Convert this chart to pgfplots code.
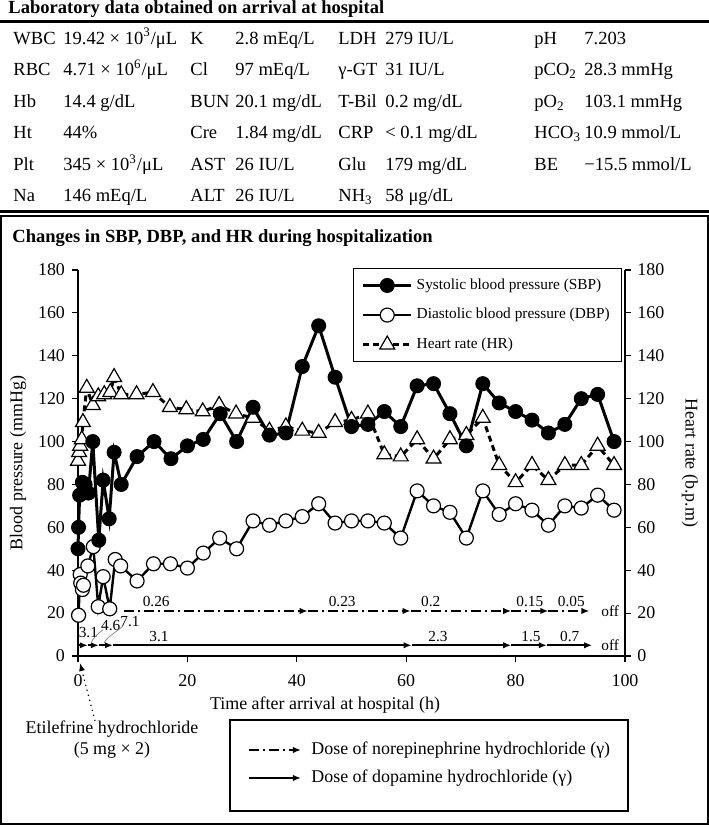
\documentclass[border=0pt]{standalone}
\usepackage{fontspec}
\setmainfont{Liberation Serif}
\usepackage{pgfplots}
\pgfplotsset{compat=1.18}
\usetikzlibrary{arrows.meta}
\begin{document}
\begin{tikzpicture}
\path[use as bounding box] (0,0) rectangle (354.5bp,-413.5bp);
\begin{axis}[
  at={(39bp,-328bp)}, anchor=south west,
  scale only axis, width=273.5bp, height=193bp,
  xmin=0, xmax=100, ymin=0, ymax=180,
  axis x line*=bottom, axis y line*=left,
  axis line style={-, line width=0.6bp},
  xtick={0,20,...,100}, ytick={0,20,...,180},
  tick align=outside, major tick length=3bp,
  tick style={line width=0.6bp, black},
  ticklabel style={font=\fontsize{9}{10}\selectfont},
  xticklabel style={yshift=-3bp},
  /pgf/number format/assume math mode=true,
  clip=false,
  legend cell align=left,
  legend style={at={(0.503,1.005)}, anchor=north west, draw=black, line width=0.6bp,
    font=\fontsize{7.7}{9}\selectfont, inner xsep=4bp, inner ysep=3bp, row sep=4bp},
  legend image code/.code={\draw[mark repeat=2,mark phase=2,#1] plot coordinates {(0bp,0bp)(12bp,0bp)(24bp,0bp)};},
]
\addlegendimage{black, line width=1.5bp, mark=*, mark size=3.5bp, mark options={solid, fill=black, line width=0.5bp}}
\addlegendentry{Systolic blood pressure (SBP)}
\addlegendimage{black, line width=1.2bp, mark=*, mark size=3.5bp, mark options={solid, fill=white, line width=0.6bp}}
\addlegendentry{Diastolic blood pressure (DBP)}
\addlegendimage{black, line width=1.5bp, dash pattern=on 3bp off 2bp, mark=triangle*, mark size=4.3bp, mark options={solid, fill=white, line width=0.6bp}}
\addlegendentry{Heart rate (HR)}

% HR
\addplot[forget plot, black, line width=1.5bp, dash pattern=on 3bp off 2bp, mark=triangle*, mark size=4.3bp, mark options={solid, fill=white, line width=0.6bp}] coordinates {
(0,91)(0.2,95)(0.4,98)(0.7,101)(0.9,109)(1.6,125)(2.7,117)(3.7,121)(4.8,122)(5.9,123)(6.6,130)(7.9,122)(10.7,122)(13.7,123)(16.8,116)(19.8,115)(22.8,114)(25.8,117)(28.9,113)(32,111)(35,105)(38,107)(41,105)(44,104)(47,109)(50,110)(53,113)(56,94)(59,93)(62,101)(65,92)(68,101)(71,103)(74,111)(77,89)(80,81)(83,89)(86,82)(89,89)(92,89)(95,98)(98,89)};
% DBP
\addplot[forget plot, black, line width=1.2bp, mark=*, mark size=3.5bp, mark options={solid, fill=white, line width=0.6bp}] coordinates {
(0.1,19)(0.4,38)(0.5,34)(0.8,31)(1.0,33)(1.8,42)(2.8,51)(3.7,23)(4.6,37)(5.8,22)(6.8,45)(7.8,42)(10.8,35)(13.8,43)(16.9,43)(20,41)(22.9,48)(25.9,55)(29,50)(32,63)(35,61)(38,63)(41,65)(44,71)(47,62)(50,63)(53,63)(56,62)(59,55)(62,77)(65,70)(68,67)(71,55)(74,77)(77,66)(80,71)(83,68)(86,61)(89,70)(92,69)(95,75)(98,68)};
% SBP
\addplot[forget plot, black, line width=1.5bp, mark=*, mark size=3.5bp, mark options={solid, fill=black, line width=0.5bp}] coordinates {
(0,50)(0.1,60)(0.3,75)(0.8,81)(1.3,80)(1.9,76)(2.7,100)(3.8,54)(4.6,82)(5.7,64)(6.6,95)(7.9,80)(10.8,93)(13.9,100)(17,92)(20,98)(22.9,101)(26,113)(29,100)(32,116)(35,103)(38,104)(41,135)(44,154)(47,130)(50,107)(53,108)(56,114)(59,107)(62,126)(65,127)(68,113)(71,98)(74,127)(77,118)(80,114)(83,110)(86,104)(89,108)(92,120)(95,122)(98,100)};

\pgfplotsset{ne/.style={forget plot, black, line width=0.8bp, dash pattern=on 5bp off 2bp on 1bp off 2bp, -{Latex[length=4bp,width=3.2bp]}},
             dp/.style={forget plot, black, line width=1.1bp, -{Latex[length=4bp,width=3.2bp]}}}
% norepinephrine doses
\addplot[ne] coordinates {(8.4,21)(42,21)};
\addplot[ne] coordinates {(42,21)(60.8,21)};
\addplot[ne] coordinates {(60.8,21)(79.2,21)};
\addplot[ne] coordinates {(79.2,21)(86,21)};
\addplot[ne] coordinates {(86,21)(93.5,21)};
% dopamine doses
\addplot[dp] coordinates {(0,5)(1.8,5)};
\addplot[dp] coordinates {(1.8,5)(3.8,5)};
\addplot[dp] coordinates {(3.8,5)(6.4,5)};
\addplot[dp] coordinates {(6.4,5)(61,5)};
\addplot[dp] coordinates {(61,5)(79.2,5)};
\addplot[dp] coordinates {(79.2,5)(85.7,5)};
\addplot[dp] coordinates {(85.7,5)(94,5)};

\begin{scope}[font=\fontsize{7.7}{9}\selectfont]
\node at (axis cs:14.3,25.5) {0.26};
\node at (axis cs:48.3,25.5) {0.23};
\node at (axis cs:64.5,25.5) {0.2};
\node at (axis cs:82.6,25.5) {0.15};
\node at (axis cs:90.2,25.5) {0.05};
\node at (axis cs:97.3,21) {off};
\node at (axis cs:1.9,10.8) {3.1};
\node at (axis cs:6.0,14.3) {4.6};
\node at (axis cs:9.5,16.2) {7.1};
\node at (axis cs:14.8,9) {3.1};
\node at (axis cs:65.8,9) {2.3};
\node at (axis cs:82.8,9) {1.5};
\node at (axis cs:89.9,9) {0.7};
\node at (axis cs:97.3,5) {off};
\end{scope}
\draw[line width=0.35bp, gray] (axis cs:4.6,12.3) .. controls (axis cs:3.6,10.5) and (axis cs:2.6,8) .. (axis cs:2.4,6);
\draw[line width=0.35bp, gray] (axis cs:8.2,14) .. controls (axis cs:7,11) and (axis cs:5,8.5) .. (axis cs:4.8,6);
\end{axis}

\begin{scope}[x=0.5bp,y=-0.5bp]
% top table
\node[anchor=base west,inner sep=0,font=\fontsize{9.3}{11}\selectfont\bfseries] at (8,13) {Laboratory data obtained on arrival at hospital};
\draw[line width=1.5bp] (0,22) -- (709,22);
\begin{scope}[every node/.style={anchor=base west,inner sep=0,font=\fontsize{9.3}{11}\selectfont}]
\node at (13,44) {WBC}; \node at (63,44) {19.42 × 10\textsuperscript{3}/μL};
\node at (190,44) {K}; \node at (235,44) {2.8 mEq/L};
\node at (338,44) {LDH}; \node at (385,44) {279 IU/L};
\node at (534,44) {pH}; \node at (584,44) {7.203};
\node at (13,76) {RBC}; \node at (63,76) {4.71 × 10\textsuperscript{6}/μL};
\node at (190,76) {Cl}; \node at (235,76) {97 mEq/L};
\node at (338,76) {γ-GT}; \node at (385,76) {31 IU/L};
\node at (534,76) {pCO\textsubscript{2}}; \node at (584,76) {28.3 mmHg};
\node at (13,108) {Hb}; \node at (63,108) {14.4 g/dL};
\node at (190,108) {BUN}; \node at (235,108) {20.1 mg/dL};
\node at (338,108) {T-Bil}; \node at (385,108) {0.2 mg/dL};
\node at (534,108) {pO\textsubscript{2}}; \node at (584,108) {103.1 mmHg};
\node at (13,139) {Ht}; \node at (63,139) {44\%};
\node at (190,139) {Cre}; \node at (235,139) {1.84 mg/dL};
\node at (338,139) {CRP}; \node at (385,139) {< 0.1 mg/dL};
\node at (534,139) {HCO\textsubscript{3}}; \node at (584,139) {10.9 mmol/L};
\node at (13,171) {Plt}; \node at (63,171) {345 × 10\textsuperscript{3}/μL};
\node at (190,171) {AST}; \node at (235,171) {26 IU/L};
\node at (338,171) {Glu}; \node at (385,171) {179 mg/dL};
\node at (534,171) {BE}; \node at (584,171) {−15.5 mmol/L};
\node at (13,202) {Na}; \node at (63,202) {146 mEq/L};
\node at (190,202) {ALT}; \node at (235,202) {26 IU/L};
\node at (338,202) {NH\textsubscript{3}}; \node at (385,202) {58 μg/dL};
\end{scope}
\draw[line width=1.5bp] (0,212) -- (709,212);
% chart frame
\draw[line width=1bp] (1,216) rectangle (708,824);
\node[anchor=base west,inner sep=0,font=\fontsize{9.3}{11}\selectfont\bfseries] at (12,243) {Changes in SBP, DBP, and HR during hospitalization};
% axis labels
\node[rotate=90,font=\fontsize{9}{10}\selectfont] at (18,463) {Blood pressure (mmHg)};
\node[rotate=-90,font=\fontsize{9}{10}\selectfont] at (690,463) {Heart rate (b.p.m)};
\node[font=\fontsize{9}{10}\selectfont] at (325,705) {Time after arrival at hospital (h)};
% right axis
\draw[line width=0.6bp] (625,656) -- (625,270);
\foreach \v in {0,20,...,180} {
  \draw[line width=0.6bp] (625,{656-2.1444*\v}) -- (631,{656-2.1444*\v});
  \node[anchor=west,inner sep=0,font=\fontsize{9}{10}\selectfont] at (637,{656-2.1444*\v}) {\v};
}
% etilefrine
\draw[line width=0.6bp, dotted, -{Latex[length=4bp,width=3bp]}] (95,721) -- (80,663);
\node[font=\fontsize{9}{10}\selectfont, align=center, inner sep=0] at (112,740) {Etilefrine hydrochloride\\[0.5bp](5 mg × 2)};
% lower legend
\draw[line width=0.6bp] (230,720) rectangle (628,811);
\draw[line width=0.8bp, dash pattern=on 5bp off 2bp on 1bp off 2bp, -{Latex[length=4bp,width=3.2bp]}] (249,750) -- (301,750);
\draw[line width=1.1bp, -{Latex[length=4bp,width=3.2bp]}] (249,778) -- (301,778);
\node[anchor=west,inner sep=0,font=\fontsize{9}{10}\selectfont] at (311,750) {Dose of norepinephrine hydrochloride (γ)};
\node[anchor=west,inner sep=0,font=\fontsize{9}{10}\selectfont] at (311,778) {Dose of dopamine hydrochloride (γ)};
\end{scope}
\end{tikzpicture}
\end{document}
